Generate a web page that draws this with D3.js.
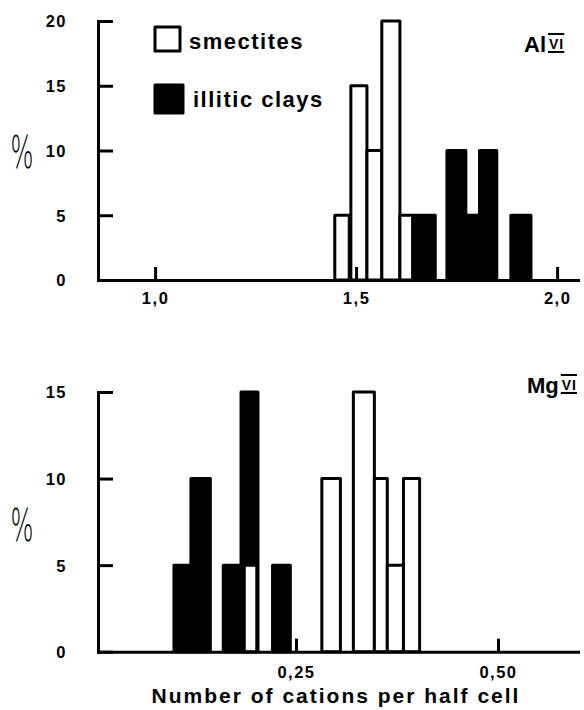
<!DOCTYPE html>
<html>
<head>
<meta charset="utf-8">
<script src="https://cdn.jsdelivr.net/npm/d3@7"></script>
<style>
  body { margin: 0; background: #fff; }
  svg { display: block; font-family: "Liberation Sans", Arial, sans-serif; }
</style>
</head>
<body>
<div id="chart"></div>
<script>
// Al(VI) panel: histogram bins (from, to) and percentages
const alSmectiteFrom = [1.447, 1.487, 1.527, 1.564, 1.609];
const alSmectiteTo   = [1.483, 1.527, 1.564, 1.609, 1.641];
const alSmectitePct  = [5, 15, 10, 20, 5];
const alIlliteFrom   = [1.641, 1.726, 1.773, 1.807, 1.885];
const alIlliteTo     = [1.697, 1.773, 1.807, 1.850, 1.935];
const alIllitePct    = [5, 10, 5, 10, 5];
const alXTicks = [1.0, 1.5, 2.0];
const alYTicks = [0, 5, 10, 15, 20];

// Mg(VI) panel
const mgIlliteFrom   = [0.099, 0.120, 0.160, 0.182, 0.221];
const mgIlliteTo     = [0.120, 0.144, 0.182, 0.203, 0.243];
const mgIllitePct    = [5, 10, 5, 15, 5];
const mgSmectiteFrom = [0.186, 0.282, 0.321, 0.347, 0.363, 0.383];
const mgSmectiteTo   = [0.2015, 0.305, 0.347, 0.363, 0.383, 0.403];
const mgSmectitePct  = [5, 10, 15, 10, 5, 10];
const mgXTicks = [0.25, 0.50];
const mgYTicks = [0, 5, 10, 15];

const legendLabels = ["smectites", "illitic clays"];

const svg = d3.select("#chart").append("svg")
  .attr("width", 584)
  .attr("height", 710);

const bins = (from, to, pct) => from.map((f, i) => ({ x0: f, x1: to[i], v: pct[i] }));
const comma = (digits) => (d) => d3.format("." + digits + "f")(d).replace(".", ",");

function panel(opts) {
  const x = d3.scaleLinear().domain(opts.xDomain).range([98, 578]);
  const y = d3.scaleLinear().domain(opts.yDomain).range(opts.yRange);
  const g = svg.append("g");

  const drawBars = (data, fill) => {
    g.append("g").selectAll("rect").data(data).join("rect")
      .attr("x", (d) => x(d.x0))
      .attr("width", (d) => x(d.x1) - x(d.x0))
      .attr("y", (d) => y(d.v))
      .attr("height", (d) => y(0) - y(d.v))
      .attr("fill", fill)
      .attr("stroke", "#000")
      .attr("stroke-width", 3)
      .attr("stroke-linejoin", "round");
  };
  opts.order.forEach((s) => drawBars(s.data, s.fill));

  // axes (ticks pointing inward)
  const xAxis = g.append("g")
    .attr("transform", `translate(0,${y(0)})`)
    .call(d3.axisBottom(x).tickValues(opts.xTicks).tickFormat(comma(opts.xDigits))
      .tickSizeInner(-13).tickSizeOuter(0).tickPadding(opts.xPad));
  const yAxis = g.append("g")
    .attr("transform", "translate(98,0)")
    .call(d3.axisLeft(y).tickValues(opts.yTicks)
      .tickSizeInner(-15).tickSizeOuter(0).tickPadding(31));

  [xAxis, yAxis].forEach((a) => {
    a.attr("font-family", null);
    a.select(".domain").attr("stroke-width", 3).attr("stroke-linecap", "square");
    a.selectAll(".tick line").attr("stroke-width", 3);
    a.selectAll(".tick text")
      .attr("fill", "#000")
      .style("font-size", "16.5px")
      .style("font-weight", "bold")
      .style("letter-spacing", "1.5px");
  });
  yAxis.selectAll(".tick text").attr("dy", "0.36em");

  // "%" label
  g.append("text")
    .attr("transform", `translate(22,${opts.pctY}) scale(0.55,1)`)
    .attr("text-anchor", "middle")
    .attr("dy", "0.36em")
    .style("font-family", "'DejaVu Sans', sans-serif")
    .style("font-size", "44px")
    .style("font-weight", "300")
    .text("%");

  // element label with overlined/underlined VI
  const lab = g.append("text")
    .attr("x", opts.labX).attr("y", opts.labY)
    .style("font-weight", "bold");
  lab.append("tspan").style("font-size", "22px").text(opts.element);
  const vi = g.append("text")
    .attr("y", opts.labY - 3)
    .style("font-weight", "bold")
    .style("font-size", "14px")
    .style("letter-spacing", "1px")
    .text("VI");
  const lb = lab.node().getBBox();
  vi.attr("x", lb.x + lb.width + 3);
  const vb = vi.node().getBBox();
  [opts.labY - 18, opts.labY].forEach((yy) => {
    g.append("line")
      .attr("x1", vb.x - 1).attr("x2", vb.x + vb.width)
      .attr("y1", yy).attr("y2", yy)
      .attr("stroke", "#000").attr("stroke-width", 2);
  });
  return { x, y };
}

panel({
  xDomain: [0.858, 2.052], yDomain: [0, 20], yRange: [280, 21],
  xTicks: alXTicks, yTicks: alYTicks, xDigits: 1, xPad: 12,
  order: [
    { data: bins(alSmectiteFrom, alSmectiteTo, alSmectitePct), fill: "#fff" },
    { data: bins(alIlliteFrom, alIlliteTo, alIllitePct), fill: "#000" }
  ],
  pctY: 152, element: "Al", labX: 524, labY: 52
});

panel({
  xDomain: [0.005, 0.599], yDomain: [0, 15], yRange: [651.7, 392],
  xTicks: mgXTicks, yTicks: mgYTicks, xDigits: 2, xPad: 15,
  order: [
    { data: bins(mgIlliteFrom, mgIlliteTo, mgIllitePct), fill: "#000" },
    { data: bins(mgSmectiteFrom, mgSmectiteTo, mgSmectitePct), fill: "#fff" }
  ],
  pctY: 525, element: "Mg", labX: 527, labY: 393
});

// legend
const legend = svg.append("g");
legendLabels.forEach((name, i) => {
  const row = legend.append("g").attr("transform", `translate(0,${i * 58})`);
  row.append("rect")
    .attr("x", 155).attr("y", 27)
    .attr("width", i === 0 ? 25 : 28).attr("height", i === 0 ? 24 : 28)
    .attr("fill", i === 0 ? "#fff" : "#000")
    .attr("stroke", "#000").attr("stroke-width", 3)
    .attr("stroke-linejoin", "round");
  row.append("text")
    .attr("x", i === 0 ? 189 : 193).attr("y", 49)
    .style("font-size", "22px")
    .style("font-weight", "bold")
    .style("letter-spacing", "1.5px")
    .text(name);
});

// x-axis title
svg.append("text")
  .attr("x", 336).attr("y", 703)
  .attr("text-anchor", "middle")
  .style("font-size", "21px")
  .style("font-weight", "bold")
  .style("letter-spacing", "2px")
  .text("Number of cations per half cell");
</script>
</body>
</html>
